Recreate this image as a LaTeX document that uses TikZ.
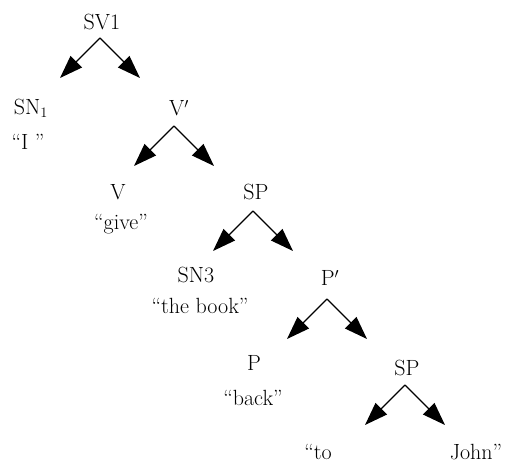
\documentclass[tikz,border=0pt]{standalone}
\usetikzlibrary{arrows.meta}

\tikzset{
    label/.style={font=\fontsize{22}{26}\selectfont, inner sep=0pt},
    branch/.style={line width=1.2pt, -{Triangle[length=23pt, width=16pt]}}
}

\begin{document}
\begin{tikzpicture}[x=1pt, y=-1pt]
    \useasboundingbox (0,0) rectangle (512,468);

    % 树的节点
    \node[label] (sv1) at (102,22) {SV1};
    \node[label] (sn1) at (31,108) {SN$_1$};
    \node[label] (i) at (28,142) {``I ''};
    \node[label] (vbar) at (179,108) {V$'$};
    \node[label] (v) at (118,192) {V};
    \node[label] (give) at (121,224) {``give''};
    \node[label] (sp1) at (256,192) {SP};
    \node[label] (sn3) at (196,275) {SN3};
    \node[label] (book) at (200,306) {``the book''};
    \node[label] (pbar) at (330,278) {P$'$};
    \node[label] (p) at (254,363) {P};
    \node[label] (back) at (253,398) {``back''};
    \node[label] (sp2) at (407,368) {SP};
    \node[label] (to) at (318,452) {``to};
    \node[label] (john) at (476,452) {John''};

    % 分叉点和箭头端点
    \foreach \n/\x/\y in {1/100/38, 2/174/126, 3/253/211, 4/327/299, 5/405/385}{
        \coordinate (top\n) at (\x,\y);
        \coordinate (left\n) at (\x-40,\y+40);
        \coordinate (right\n) at (\x+40,\y+40);
        \draw[branch] (top\n) -- (left\n);
        \draw[branch] (top\n) -- (right\n);
    }
\end{tikzpicture}
\end{document}
